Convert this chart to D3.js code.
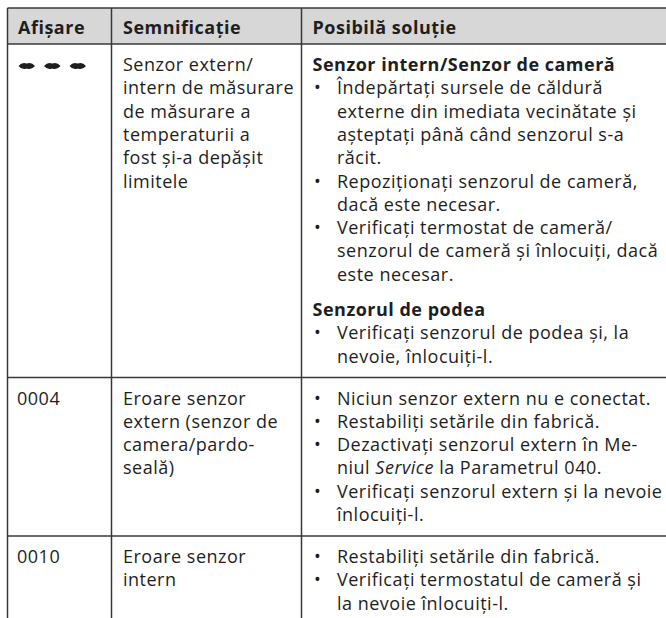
<!DOCTYPE html>
<html><head><meta charset="utf-8">
<script src="https://cdn.jsdelivr.net/npm/d3@7"></script>
<style>html,body{margin:0;padding:0;background:#fff;overflow:hidden} svg{display:block}</style>
</head><body><svg id="c" width="666" height="618"></svg>
<script>
// ---- data ----
const headers = ["Afișare", "Semnificație", "Posibilă soluție"];
const codes = ["---", "0004", "0010"];
const meanings = [
  ["Senzor extern/", "intern de măsurare", "de măsurare a", "temperaturii a", "fost și-a depășit", "limitele"],
  ["Eroare senzor", "extern (senzor de", "camera/pardo-", "seală)"],
  ["Eroare senzor", "intern"]
];
const solutions = [
  [
    { title: "Senzor intern/Senzor de cameră", bullets: [
      ["Îndepărtați sursele de căldură", "externe din imediata vecinătate și", "așteptați până când senzorul s-a", "răcit."],
      ["Repoziționați senzorul de cameră,", "dacă este necesar."],
      ["Verificați termostat de cameră/", "senzorul de cameră și înlocuiți, dacă", "este necesar."]
    ]},
    { title: "Senzorul de podea", bullets: [
      ["Verificați senzorul de podea și, la", "nevoie, înlocuiți-l."]
    ]}
  ],
  [
    { title: null, bullets: [
      ["Niciun senzor extern nu e conectat."],
      ["Restabiliți setările din fabrică."],
      ["Dezactivați senzorul extern în Me-", "niul *Service* la Parametrul 040."],
      ["Verificați senzorul extern și la nevoie", "înlocuiți-l."]
    ]}
  ],
  [
    { title: null, bullets: [
      ["Restabiliți setările din fabrică."],
      ["Verificați termostatul de cameră și", "la nevoie înlocuiți-l."]
    ]}
  ]
];

// ---- layout ----
const W = 666, H = 618;
const FONT = "'Open Sans', 'Noto Sans', sans-serif";
const FS = 18, LS = 0.5, LH = 23.3;
const TEXT = "#1e1e1e", LINE = "#383838", HEAD_BG = "#d7d7d7";
const tableTop = 8, headH = 36;
const padTop = 27, padBottom = 15, blockGap = 12;
const colEdges = [7.5, 111.5, 301.5, 720];

const svg = d3.select("#c");
const x = d3.scaleOrdinal().domain(d3.range(4)).range(colEdges);
const textIndent = [9.5, 11.5, 11];

function solutionLines(blocks) {
  const out = []; let y = 0;
  blocks.forEach((b, bi) => {
    if (bi > 0) y += blockGap;
    if (b.title) { out.push({ y, text: b.title, bold: true, bullet: false }); y += LH; }
    b.bullets.forEach(lines => {
      lines.forEach((t, li) => { out.push({ y, text: t, bold: false, bullet: li === 0 }); y += LH; });
    });
  });
  return out;
}
const rows = codes.map((c, i) => {
  const sol = solutionLines(solutions[i]);
  const n = Math.max(meanings[i].length, 1);
  const contentH = Math.max(sol[sol.length - 1].y, (n - 1) * LH);
  return { code: c, meaning: meanings[i], sol, h: padTop + contentH + padBottom };
});
let yAcc = tableTop + headH;
rows.forEach(r => { r.y0 = yAcc; yAcc += r.h; });

function styleText(s) {
  return s.attr("font-family", FONT).attr("font-size", FS).attr("letter-spacing", LS).attr("fill", TEXT);
}

// header background
svg.append("rect").attr("x", x(0)).attr("y", tableTop).attr("width", W - x(0) + 10).attr("height", headH)
  .attr("fill", HEAD_BG);
svg.selectAll("text.head").data(headers).join("text").attr("class", "head")
  .attr("x", (d, i) => x(i) + textIndent[i] + (i === 0 ? 1 : 0)).attr("y", tableTop + 25.5)
  .call(styleText).attr("font-weight", 700)
  .text(d => d);

const g = svg.selectAll("g.row").data(rows).join("g").attr("class", "row")
  .attr("transform", d => `translate(0,${d.y0})`);

g.each(function (r) {
  const sel = d3.select(this);
  if (r.code === "---") {
    const dashW = 16.5, dashH = 4.4, step = 25.5;
    sel.selectAll("path.dash").data(d3.range(3)).join("path").attr("class", "dash")
      .attr("d", k => {
        const x0 = x(0) + textIndent[0] + 1.5 + k * step, cy = padTop - 5;
        return `M${x0},${cy} Q${x0 + dashW * 0.22},${cy - dashH} ${x0 + dashW / 2},${cy - dashH * 0.55} Q${x0 + dashW * 0.78},${cy - dashH} ${x0 + dashW},${cy} Q${x0 + dashW * 0.78},${cy + dashH} ${x0 + dashW / 2},${cy + dashH * 0.55} Q${x0 + dashW * 0.22},${cy + dashH} ${x0},${cy}Z`;
      })
      .attr("fill", TEXT);
  } else {
    sel.append("text").attr("x", x(0) + textIndent[0]).attr("y", padTop)
      .call(styleText).text(r.code);
  }
  sel.selectAll("text.m").data(r.meaning).join("text").attr("class", "m")
    .attr("x", x(1) + textIndent[1]).attr("y", (d, i) => padTop + i * LH)
    .call(styleText).text(d => d);
  const sl = sel.selectAll("g.s").data(r.sol).join("g").attr("class", "s");
  sl.filter(d => d.bullet).append("text")
    .attr("x", x(2) + 12.5).attr("y", d => padTop + d.y)
    .call(styleText).text("•");
  sl.append("text")
    .attr("x", d => d.bold ? x(2) + textIndent[2] : x(2) + 35.5).attr("y", d => padTop + d.y)
    .call(styleText)
    .attr("font-weight", d => d.bold ? 700 : 400)
    .each(function (d) {
      const t = d3.select(this);
      d.text.split("*").forEach((seg, si) => {
        if (!seg) return;
        t.append("tspan").attr("font-style", si % 2 ? "italic" : "normal").text(seg);
      });
    });
});

// grid lines
const hLines = [tableTop, tableTop + headH, ...rows.slice(1).map(r => r.y0)];
svg.selectAll("line.h").data(hLines).join("line").attr("class", "h")
  .attr("x1", x(0)).attr("x2", W + 5).attr("y1", d => d).attr("y2", d => d)
  .attr("stroke", LINE).attr("stroke-width", 1.5);
svg.selectAll("line.v").data([0, 1, 2]).join("line").attr("class", "v")
  .attr("x1", d => x(d)).attr("x2", d => x(d)).attr("y1", tableTop).attr("y2", H + 5)
  .attr("stroke", LINE).attr("stroke-width", 1.5);
</script>
</body></html>
